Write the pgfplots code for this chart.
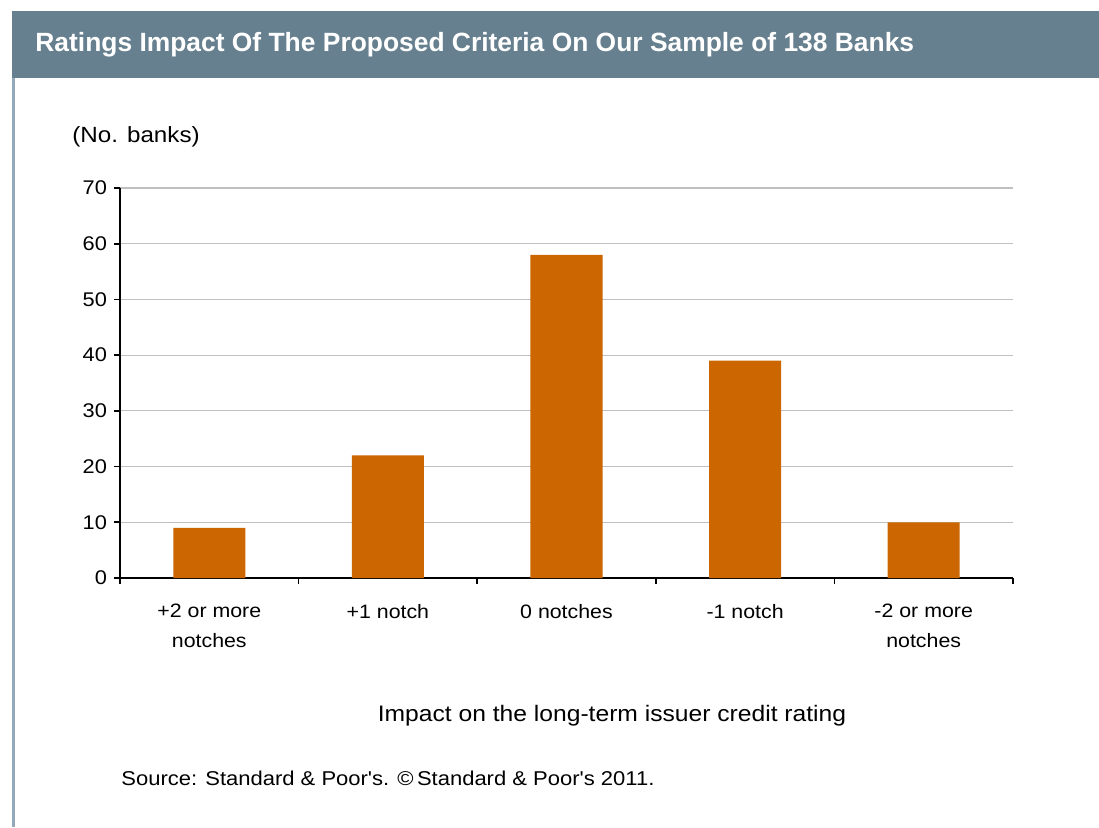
\documentclass[border=0pt]{standalone}
\usepackage{pgfplots}
\pgfplotsset{compat=1.18}
\usepackage{fontspec}
\setmainfont{Liberation Sans}[FakeStretch=1.1, Ligatures=TeXOff]
\newfontfamily\titlefont{Liberation Sans}
\definecolor{barc}{HTML}{CC6600}
\definecolor{titlebar}{HTML}{66808F}
\definecolor{borderc}{HTML}{93A8B8}
\definecolor{gridc}{HTML}{C0C0C0}
\begin{document}
\begin{tikzpicture}[x=0.5pt,y=0.5pt]
\useasboundingbox (0,0) rectangle (1099,827);
\fill[white] (0,0) rectangle (1099,827);
\fill[titlebar] (12,749) rectangle (1099,816);
\fill[borderc] (12,0) rectangle (15,749);
\node[anchor=west, text=white, inner sep=0pt, font=\titlefont\bfseries\fontsize{13.2}{15}\selectfont] at (35,782) {Ratings Impact Of The Proposed Criteria On Our Sample of 138 Banks};
\node[anchor=west, inner sep=0pt, font=\fontsize{11}{13}\selectfont] at (72,690) {(No. banks)};
\node[anchor=center, inner sep=0pt, font=\fontsize{11.2}{13}\selectfont] at (612,111) {Impact on the long-term issuer credit rating};
\node[anchor=west, inner sep=0pt, font=\fontsize{10}{12}\selectfont] at (121,49) {Source: Standard \& Poor's. \textcopyright\,Standard \& Poor's 2011.};
\begin{axis}[
  at={(60pt,124.5pt)}, anchor=south west,
  width=446.5pt, height=195pt, scale only axis,
  xmin=-0.5, xmax=4.5, ymin=0, ymax=70,
  axis lines=left, axis line style={-, black, line width=0.8pt},
  ytick={0,10,...,70},
  ymajorgrids, grid style={gridc, line width=0.6pt},
  tick align=outside, major tick length=3pt,
  tick style={black, line width=0.8pt},
  xtick={-0.5,0.5,1.5,2.5,3.5,4.5}, xticklabels={},
  extra x ticks={0,1,2,3,4},
  extra x tick labels={{+2 or more\\notches},{+1 notch},{0 notches},{-1 notch},{-2 or more\\notches}},
  extra x tick style={major tick length=0pt, tick style={draw=none}},
  x tick label style={align=center, font=\fontsize{9.7}{15}\selectfont, yshift=-9.5pt},
  y tick label style={font=\fontsize{9.9}{12}\selectfont, /pgf/number format/assume math mode=true},
  ybar, bar width=36pt,
]
\addplot[fill=barc, draw=none] coordinates {(0,9) (1,22) (2,58) (3,39) (4,10)};
\end{axis}
\end{tikzpicture}
\end{document}
